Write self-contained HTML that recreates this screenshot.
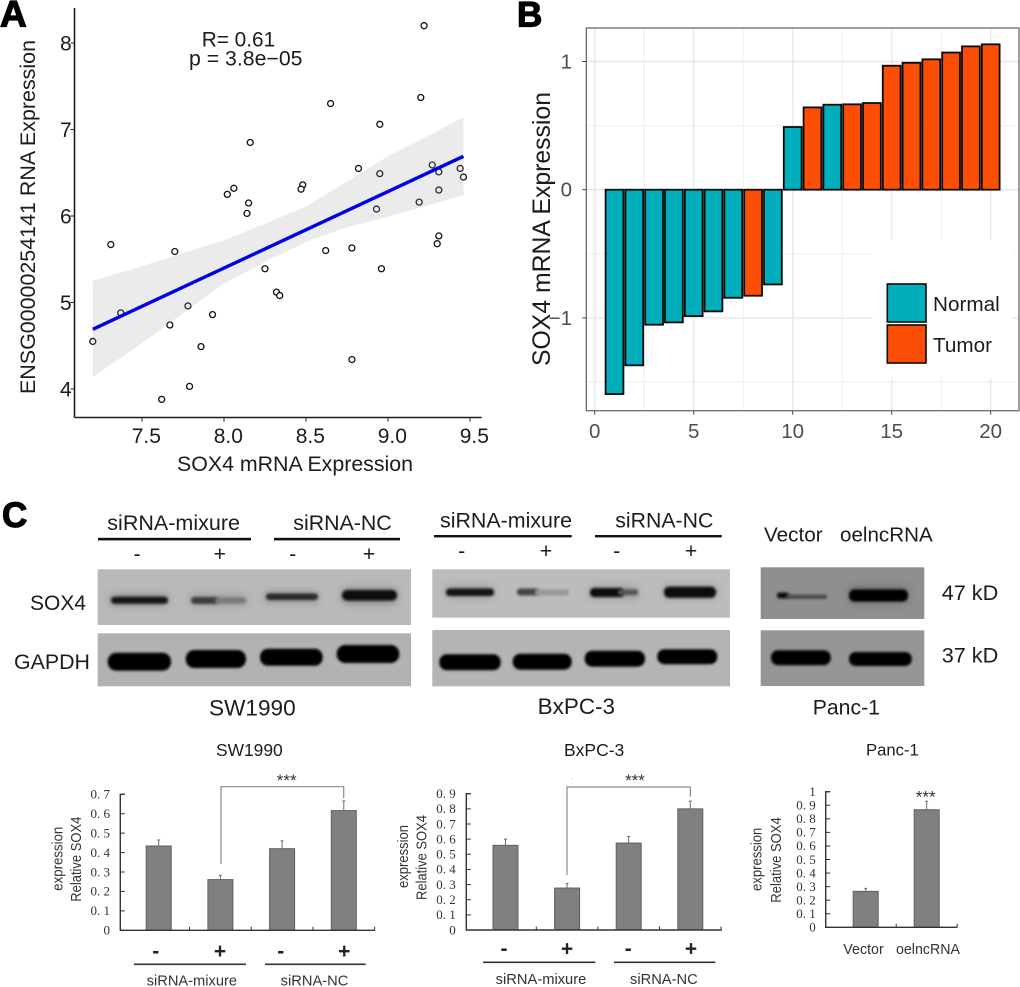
<!DOCTYPE html>
<html>
<head>
<meta charset="utf-8">
<title>SOX4 expression figure</title>
<style>
html,body{margin:0;padding:0;background:#fff;}
svg{display:block;font-family:"Liberation Sans",Arial,sans-serif;filter:blur(0.35px);}
.lbl{fill:#1c1c1c;}
.serif{font-family:"Liberation Serif",serif;}
</style>
</head>
<body>
<svg id="fig" width="1020" height="987" viewBox="0 0 1020 987" xmlns="http://www.w3.org/2000/svg">
<defs>
<filter id="b1" x="-20%" y="-150%" width="140%" height="400%"><feGaussianBlur stdDeviation="1.3"/></filter>
<filter id="b2" x="-20%" y="-150%" width="140%" height="400%"><feGaussianBlur stdDeviation="2.2"/></filter>
<filter id="b4" x="-30%" y="-200%" width="160%" height="500%"><feGaussianBlur stdDeviation="4"/></filter>
</defs>
<rect width="1020" height="987" fill="#fff"/>

<text x="0" y="26.7" font-size="37" font-weight="bold" stroke="#000" stroke-width="1.2">A</text>
<text x="517" y="26.7" font-size="35" font-weight="bold" stroke="#000" stroke-width="1.2">B</text>
<text x="2" y="527" font-size="35" font-weight="bold" stroke="#000" stroke-width="1.2">C</text>

<g id="scatter"></g>
<text class="lbl" x="201.7" y="46.7" font-size="21" textLength="73.5" lengthAdjust="spacingAndGlyphs">R= 0.61</text>
<text class="lbl" x="189" y="65.7" font-size="21" textLength="113.5" lengthAdjust="spacingAndGlyphs">p = 3.8e−05</text>
<text class="lbl" x="177" y="471" font-size="21.2" textLength="236" lengthAdjust="spacingAndGlyphs">SOX4 mRNA Expression</text>
<text class="lbl" transform="translate(35,394) rotate(-90)" font-size="21.4" textLength="354" lengthAdjust="spacingAndGlyphs">ENSG00000254141 RNA Expression</text>

<g id="waterfall"></g>
<text class="lbl" transform="translate(550,366) rotate(-90)" font-size="24.7" textLength="274" lengthAdjust="spacingAndGlyphs">SOX4 mRNA Expression</text>

<g>
  <rect x="97.7" y="569.3" width="313.3" height="55.7" fill="#b9b9b9"/>
  <rect x="97.7" y="633.3" width="313.3" height="53" fill="#b2b2b2"/>
  <g fill="#111">
    <rect x="110" y="595" width="58" height="10" rx="4" fill="#555" filter="url(#b4)" opacity=".5"/>
    <rect x="190" y="595" width="57" height="10" rx="4" fill="#666" filter="url(#b4)" opacity=".4"/>
    <rect x="265" y="592" width="53" height="10" rx="4" fill="#555" filter="url(#b4)" opacity=".45"/>
    <rect x="342" y="589" width="55" height="14" rx="5" fill="#444" filter="url(#b4)" opacity=".5"/>
    <rect x="111" y="596.8" width="57" height="7" rx="3.5" fill="#181818" filter="url(#b1)"/>
    <rect x="191" y="597" width="28" height="7" rx="3.5" fill="#3c3c3c" filter="url(#b1)"/>
    <rect x="215" y="597.5" width="31" height="6" rx="3" fill="#7a7a7a" filter="url(#b1)"/>
    <rect x="266" y="593.5" width="52" height="6.5" rx="3.2" fill="#2a2a2a" filter="url(#b1)"/>
    <rect x="342" y="590" width="55" height="10.5" rx="5" fill="#0c0c0c" filter="url(#b1)"/>
    <rect x="107.7" y="652.7" width="63.3" height="18" rx="8.5" fill="#000" filter="url(#b1)"/>
    <rect x="185.7" y="650" width="60.3" height="18" rx="8.5" fill="#000" filter="url(#b1)"/>
    <rect x="260" y="648.8" width="62.7" height="17" rx="8" fill="#000" filter="url(#b1)"/>
    <rect x="336.7" y="645" width="62.6" height="18" rx="8.5" fill="#000" filter="url(#b1)"/>
  </g>
</g>

<g>
  <rect x="432.3" y="569.3" width="297.7" height="48.4" fill="#bcbcbc"/>
  <rect x="432.3" y="630" width="297.7" height="56.3" fill="#b4b4b4"/>
  <g fill="#111">
    <rect x="445" y="587" width="49" height="10" rx="4" fill="#555" filter="url(#b4)" opacity=".4"/>
    <rect x="590" y="587" width="48" height="11" rx="4" fill="#555" filter="url(#b4)" opacity=".4"/>
    <rect x="664" y="586" width="52" height="12" rx="4" fill="#555" filter="url(#b4)" opacity=".4"/>
    <rect x="446" y="588.5" width="48" height="7.5" rx="3.5" fill="#181818" filter="url(#b1)"/>
    <rect x="517" y="588.5" width="22" height="7" rx="3.2" fill="#454545" filter="url(#b1)"/>
    <rect x="535" y="589.5" width="34" height="6" rx="2.5" fill="#989898" filter="url(#b1)"/>
    <rect x="590" y="588" width="34" height="9" rx="4" fill="#0c0c0c" filter="url(#b1)"/>
    <rect x="618" y="589.5" width="20" height="5.5" rx="2.2" fill="#555" filter="url(#b1)"/>
    <rect x="664" y="586.8" width="52" height="11" rx="5" fill="#0c0c0c" filter="url(#b1)"/>
    <rect x="439.3" y="654.3" width="61.4" height="16" rx="7.5" fill="#000" filter="url(#b1)"/>
    <rect x="512.7" y="653.7" width="59" height="16" rx="7.5" fill="#000" filter="url(#b1)"/>
    <rect x="584.7" y="650.7" width="60.3" height="16" rx="7.5" fill="#000" filter="url(#b1)"/>
    <rect x="657.3" y="649.2" width="60" height="15" rx="7" fill="#000" filter="url(#b1)"/>
  </g>
</g>

<g>
  <rect x="760.7" y="567.3" width="163.6" height="51.7" fill="#8f8f8f"/>
  <rect x="760.7" y="630.3" width="163.6" height="55.7" fill="#969696"/>
  <g fill="#111">
    <rect x="849" y="587" width="59" height="16" rx="5" fill="#444" filter="url(#b4)" opacity=".5"/>
    <rect x="777" y="592.5" width="12" height="6" rx="2.5" fill="#111" filter="url(#b1)"/>
    <rect x="786" y="594.5" width="41" height="4.5" rx="1.7" fill="#4c4c4c" filter="url(#b1)"/>
    <rect x="849" y="589.5" width="59" height="12" rx="5.5" fill="#000" filter="url(#b1)"/>
    <rect x="771" y="650.2" width="59.7" height="15" rx="7" fill="#000" filter="url(#b1)"/>
    <rect x="849" y="652" width="62.7" height="14" rx="6.5" fill="#000" filter="url(#b1)"/>
  </g>
</g>

<g font-size="21.4">
  <text class="lbl" x="107.3" y="530" textLength="132.7" lengthAdjust="spacingAndGlyphs">siRNA-mixure</text>
  <rect x="98" y="537.8" width="153" height="2.6" fill="#111"/>
  <text class="lbl" x="293.3" y="530" textLength="98.4" lengthAdjust="spacingAndGlyphs">siRNA-NC</text>
  <rect x="274" y="537.8" width="126" height="2.6" fill="#111"/>
  <text class="lbl" x="137" y="561" text-anchor="middle">-</text>
  <text class="lbl" x="219.7" y="561" text-anchor="middle">+</text>
  <text class="lbl" x="292.7" y="561" text-anchor="middle">-</text>
  <text class="lbl" x="369" y="561" text-anchor="middle">+</text>
  <text class="lbl" x="30" y="610" textLength="56" lengthAdjust="spacingAndGlyphs">SOX4</text>
  <text class="lbl" x="14" y="669" textLength="76" lengthAdjust="spacingAndGlyphs">GAPDH</text>
  <text class="lbl" x="209" y="715.7" font-size="22.5" textLength="86.7" lengthAdjust="spacingAndGlyphs">SW1990</text>

  <text class="lbl" x="440" y="527.3" textLength="132" lengthAdjust="spacingAndGlyphs">siRNA-mixure</text>
  <rect x="434" y="535" width="137.7" height="2.4" fill="#111"/>
  <text class="lbl" x="615.3" y="527.3" textLength="98" lengthAdjust="spacingAndGlyphs">siRNA-NC</text>
  <rect x="595" y="535" width="126.7" height="2.4" fill="#111"/>
  <text class="lbl" x="461.7" y="558" text-anchor="middle">-</text>
  <text class="lbl" x="546" y="558" text-anchor="middle">+</text>
  <text class="lbl" x="616.7" y="558" text-anchor="middle">-</text>
  <text class="lbl" x="691" y="558" text-anchor="middle">+</text>
  <text class="lbl" x="537.7" y="714" font-size="22.4" textLength="77.3" lengthAdjust="spacingAndGlyphs">BxPC-3</text>

  <text class="lbl" x="764" y="541.7" font-size="20.5" textLength="58.7" lengthAdjust="spacingAndGlyphs">Vector</text>
  <text class="lbl" x="840" y="541.7" font-size="20.5" textLength="92.7" lengthAdjust="spacingAndGlyphs">oelncRNA</text>
  <text class="lbl" x="941.7" y="600" font-size="21.7" textLength="56.6" lengthAdjust="spacingAndGlyphs">47 kD</text>
  <text class="lbl" x="941.7" y="662.7" font-size="21.7" textLength="56.6" lengthAdjust="spacingAndGlyphs">37 kD</text>
  <text class="lbl" x="812.7" y="714.3" textLength="67.3" lengthAdjust="spacingAndGlyphs">Panc-1</text>
</g>

<g id="barcharts"></g>

<g>
  <text class="lbl" x="216" y="756" font-size="17.3" textLength="66.7" lengthAdjust="spacingAndGlyphs">SW1990</text>
  <text class="lbl" x="564" y="756" font-size="17.3" textLength="60.3" lengthAdjust="spacingAndGlyphs">BxPC-3</text>
  <text class="lbl" x="866" y="755.5" font-size="16.8" textLength="52.7" lengthAdjust="spacingAndGlyphs">Panc-1</text>

  <g font-size="15" fill="#333">
    <text transform="translate(81,901.7) rotate(-90)" textLength="85" lengthAdjust="spacingAndGlyphs">Relative SOX4</text>
    <text transform="translate(62.3,890.7) rotate(-90)" textLength="64" lengthAdjust="spacingAndGlyphs">expression</text>
    <text transform="translate(426.7,900) rotate(-90)" textLength="85" lengthAdjust="spacingAndGlyphs">Relative SOX4</text>
    <text transform="translate(408,888) rotate(-90)" textLength="63" lengthAdjust="spacingAndGlyphs">expression</text>
    <text transform="translate(781,902.7) rotate(-90)" textLength="85.4" lengthAdjust="spacingAndGlyphs">Relative SOX4</text>
    <text transform="translate(761.7,891) rotate(-90)" textLength="63.3" lengthAdjust="spacingAndGlyphs">expression</text>
  </g>

  <path d="M221 864V786.7H343.7V798.3" fill="none" stroke="#8a8a8a" stroke-width="1.2"/>
  <path d="M567 875V787H690.3V796.7" fill="none" stroke="#8a8a8a" stroke-width="1.2"/>
  <g font-size="17" fill="#333" text-anchor="middle">
    <text x="286.7" y="786">***</text>
    <text x="635" y="786">***</text>
    <text x="925.7" y="802.5">***</text>
  </g>
  <circle cx="572" cy="778.7" r=".5" fill="#aaa"/>

  <g font-size="21" fill="#222" text-anchor="middle" font-weight="bold">
    <text x="155.7" y="958">-</text>
    <text x="220" y="958">+</text>
    <text x="280.7" y="958">-</text>
    <text x="344.3" y="958">+</text>
    <text x="504" y="955.5">-</text>
    <text x="567" y="955.5">+</text>
    <text x="628.3" y="955.5">-</text>
    <text x="691" y="955.5">+</text>
  </g>
  <g fill="#333">
    <rect x="134" y="963.5" width="112" height="1.6"/>
    <rect x="265" y="963.5" width="100.7" height="1.6"/>
    <rect x="483" y="961.5" width="112.3" height="1.6"/>
    <rect x="614" y="961.5" width="101.3" height="1.6"/>
  </g>
  <g font-size="14.6" fill="#333">
    <text x="146.7" y="985.5" textLength="90.3" lengthAdjust="spacingAndGlyphs">siRNA-mixure</text>
    <text x="280.7" y="985.5" textLength="67.6" lengthAdjust="spacingAndGlyphs">siRNA-NC</text>
    <text x="495.7" y="984" textLength="90.6" lengthAdjust="spacingAndGlyphs">siRNA-mixure</text>
    <text x="630" y="984" textLength="67.7" lengthAdjust="spacingAndGlyphs">siRNA-NC</text>
    <text x="843.3" y="954" textLength="40.4" lengthAdjust="spacingAndGlyphs">Vector</text>
    <text x="896" y="954" textLength="64" lengthAdjust="spacingAndGlyphs">oelncRNA</text>
  </g>
</g>

<script>
const scatterXValues = [9.22,9.20,8.65,8.95,8.16,9.27,8.82,9.44,9.31,8.95,9.46,8.48,8.47,8.06,8.02,9.31,8.15,9.19,8.93,8.14,9.31,9.30,7.31,7.70,8.62,8.78,8.25,8.96,8.32,8.34,7.78,7.93,7.37,7.67,7.20,7.86,8.78,7.79,7.62];
const scatterYValues = [8.20,7.37,7.30,7.06,6.85,6.59,6.55,6.55,6.51,6.49,6.45,6.36,6.31,6.32,6.25,6.30,6.15,6.16,6.08,6.03,5.77,5.68,5.67,5.59,5.60,5.63,5.39,5.39,5.12,5.08,4.96,4.86,4.88,4.74,4.55,4.49,4.34,4.03,3.88];
const fitXValues = [7.20,9.46];
const fitYValues = [4.69,6.69];
const bandXValues = [7.20,7.50,8.00,8.25,8.50,8.75,9.00,9.46];
const bandUpperValues = [5.25,5.42,5.72,5.91,6.11,6.40,6.69,7.14];
const bandLowerValues = [4.14,4.53,5.22,5.47,5.70,5.87,5.99,6.24];
const scatterXTicks = [7.5,8.0,8.5,9.0,9.5];
const scatterYTicks = [4,5,6,7,8];

const waterfallRanks = [1,2,3,4,5,6,7,8,9,10,11,12,13,14,15,16,17,18,19,20];
const waterfallValues = [-1.594,-1.37,-1.053,-1.035,-0.986,-0.949,-0.843,-0.827,-0.739,0.489,0.642,0.663,0.666,0.676,0.967,0.99,1.017,1.07,1.118,1.134];
const waterfallGroups = ["Normal","Normal","Normal","Normal","Normal","Normal","Normal","Tumor","Normal","Normal","Tumor","Normal","Tumor","Tumor","Tumor","Tumor","Tumor","Tumor","Tumor","Tumor"];
const waterfallXTicks = [0,5,10,15,20];
const waterfallYTicks = [-1,0,1];
const waterfallXMinor = [2.5,7.5,12.5,17.5];
const waterfallYMinor = [-1.5,-0.5,0.5];
const legendGroups = ["Normal","Tumor"];

const sw1990Means = [0.434,0.261,0.42,0.616];
const sw1990Errors = [0.031,0.022,0.04,0.05];
const sw1990Ticks = [0,0.1,0.2,0.3,0.4,0.5,0.6,0.7];
const bxpcMeans = [0.559,0.277,0.574,0.80];
const bxpcErrors = [0.041,0.031,0.044,0.051];
const bxpcTicks = [0,0.1,0.2,0.3,0.4,0.5,0.6,0.7,0.8,0.9];
const pancMeans = [0.265,0.867];
const pancErrors = [0.022,0.063];
const pancTicks = [0,0.1,0.2,0.3,0.4,0.5,0.6,0.7,0.8,0.9,1];

const NS = "http://www.w3.org/2000/svg";
function make(tag, attrs, parent, text){
  const node = document.createElementNS(NS, tag);
  for (const k in attrs) node.setAttribute(k, attrs[k]);
  if (text !== undefined) node.textContent = text;
  parent.appendChild(node);
  return node;
}

/* ---------- Panel A ---------- */
(function(){
  const g = document.getElementById("scatter");
  const sx = v => 142 + (v - 7.5) * 164;
  const sy = v => 389 - (v - 4) * 86.5;
  scatterXValues.forEach(function(v, i){
    const el = make("circle", {cx:sx(v), cy:sy(scatterYValues[i]), r:3, fill:"#fff", stroke:"#111", "stroke-width":1.3}, g);
    
    
  });
  let d = bandXValues.map((v,i)=>(i?"L":"M")+sx(v)+" "+sy(bandUpperValues[i])).join("");
  for (let i = bandXValues.length - 1; i >= 0; i--) d += "L"+sx(bandXValues[i])+" "+sy(bandLowerValues[i]);
  const band = make("path", {d:d+"Z", fill:"#999", "fill-opacity":0.2}, g);
  
  
  const fit = make("line", {x1:sx(fitXValues[0]), y1:sy(fitYValues[0]), x2:sx(fitXValues[1]), y2:sy(fitYValues[1]), stroke:"#0000e6", "stroke-width":3.4}, g);
  
  
  const xAxis = make("line", {x1:74.5, y1:417.5, x2:481.7, y2:417.5, stroke:"#1c1c1c", "stroke-width":1.6}, g);
  
  
  const yAxis = make("line", {x1:74.5, y1:8, x2:74.5, y2:417.5, stroke:"#1c1c1c", "stroke-width":1.6}, g);
  
  
  scatterXTicks.forEach(function(v){
    const t = make("line", {x1:sx(v), y1:417.5, x2:sx(v), y2:421.5, stroke:"#222", "stroke-width":1}, g);
    
    
    const l = make("text", {x:sx(v)+4.3, y:443, "font-size":21, "text-anchor":"middle", fill:"#1c1c1c"}, g, v.toFixed(1));
    
    
  });
  scatterYTicks.forEach(function(v){
    const t = make("line", {x1:70.5, y1:sy(v), x2:74.5, y2:sy(v), stroke:"#222", "stroke-width":1}, g);
    
    
    const l = make("text", {x:71.7, y:sy(v)+7.3, "font-size":21, "text-anchor":"end", fill:"#1c1c1c"}, g, String(v));
    
    
  });
})();

/* ---------- Panel B ---------- */
(function(){
  const g = document.getElementById("waterfall");
  const L = 586.3, R = 1019, T = 28, B = 410.7;
  const sx = v => 594.7 + v * 19.8;
  const sy = v => 189.7 - v * 128.2;
  const colors = {Normal:"#00afbb", Tumor:"#fc4e07"};
  waterfallXMinor.forEach(function(v){
    const l = make("line", {x1:sx(v), y1:T, x2:sx(v), y2:B, stroke:"#eeeeee", "stroke-width":0.9}, g);
    
    
  });
  waterfallYMinor.forEach(function(v){
    const l = make("line", {x1:L, y1:sy(v), x2:R, y2:sy(v), stroke:"#eeeeee", "stroke-width":0.9}, g);
    
    
  });
  waterfallXTicks.forEach(function(v){
    const l = make("line", {x1:sx(v), y1:T, x2:sx(v), y2:B, stroke:"#e8e8e8", "stroke-width":1.4}, g);
    
    
  });
  waterfallYTicks.forEach(function(v){
    const l = make("line", {x1:L, y1:sy(v), x2:R, y2:sy(v), stroke:"#e8e8e8", "stroke-width":1.4}, g);
    
    
  });
  const legendBg = make("rect", {x:872.7, y:240, width:140.3, height:137.7, fill:"#fff"}, g);
  
  
  waterfallRanks.forEach(function(r, i){
    const v = waterfallValues[i];
    const bar = make("rect", {x:sx(r-0.45), y:Math.min(sy(v), sy(0)), width:sx(r+0.45)-sx(r-0.45), height:Math.abs(sy(v)-sy(0)), fill:colors[waterfallGroups[i]], stroke:"#0a0a0a", "stroke-width":1.8}, g);
    
    
  });
  const frame = make("rect", {x:L, y:T, width:R-L, height:B-T, fill:"none", stroke:"#6a6a6a", "stroke-width":1.3}, g);
  
  
  waterfallXTicks.forEach(function(v){
    const t = make("line", {x1:sx(v), y1:B, x2:sx(v), y2:B+4, stroke:"#444", "stroke-width":1}, g);
    
    
    const l = make("text", {x:sx(v), y:438, "font-size":20.5, "text-anchor":"middle", fill:"#4d4d4d"}, g, String(v));
    
    
  });
  waterfallYTicks.forEach(function(v){
    const t = make("line", {x1:L-4, y1:sy(v), x2:L, y2:sy(v), stroke:"#444", "stroke-width":1}, g);
    
    
    const l = make("text", {x:572, y:sy(v)+7, "font-size":20.5, "text-anchor":"end", fill:"#4d4d4d"}, g, String(v).replace("-", "\u2212"));
    
    
  });
  legendGroups.forEach(function(name, i){
    const y = 284 + i * 41;
    const key = make("rect", {x:887.3, y:y, width:38.7, height:38, fill:colors[name], stroke:"#0a0a0a", "stroke-width":1.6}, g);
    
    
    const l = make("text", {x:933, y:y+26.8, "font-size":20.7, fill:"#1c1c1c"}, g, name);
    
    
  });
})();

/* ---------- Panel C bar charts ---------- */
function drawBars(g, means, errors, ticks, left, right, top, bottom, firstCenter, step, labelX, topValue){
  const sy = v => bottom - (v / topValue) * (bottom - top);
  const sx = i => firstCenter + i * step;
  means.forEach(function(m, i){
    const bar = make("rect", {x:sx(i)-12.5, y:sy(m), width:25, height:bottom-sy(m), fill:"#808080", stroke:"#5f5f5f", "stroke-width":1}, g);
    
    
    const err = make("path", {d:"M"+sx(i)+" "+sy(m)+"V"+sy(m+errors[i])+"M"+(sx(i)-1.5)+" "+sy(m+errors[i])+"H"+(sx(i)+1.5), stroke:"#6a6a6a", "stroke-width":1, fill:"none"}, g);
    
    
  });
  const axis = make("path", {d:"M"+(left+4.5)+" "+top+"H"+left+"V"+bottom+"H"+right, fill:"none", stroke:"#333", "stroke-width":1.4}, g);
  
  
  ticks.forEach(function(v){
    const t = make("line", {x1:left, y1:sy(v), x2:left+4.5, y2:sy(v), stroke:"#333", "stroke-width":1}, g);
    
    
    const text = (v === 0 || v === 1) ? String(v) : "0. " + Math.round(v * 10);
    const l = make("text", {x:labelX, y:sy(v)+4.3, "font-size":13, "text-anchor":"end", fill:"#333", "class":"serif"}, g, text);
    
    
  });
  means.forEach(function(m, i){
    const bx = sx(i) + step / 2;
    const t = make("line", {x1:bx, y1:bottom, x2:bx, y2:bottom-3.5, stroke:"#333", "stroke-width":1}, g);
    
    
  });
}
(function(){
  const root = document.getElementById("barcharts");
  const g1 = make("g", {}, root);
  
  
  drawBars(g1, sw1990Means, sw1990Errors, sw1990Ticks, 120.3, 375, 794.3, 930.3, 158.7, 61.7, 110, 0.7);
  const g2 = make("g", {}, root);
  
  
  drawBars(g2, bxpcMeans, bxpcErrors, bxpcTicks, 466.3, 721.7, 793.7, 930, 505.5, 61.6, 455.7, 0.9);
  const g3 = make("g", {}, root);
  
  
  drawBars(g3, pancMeans, pancErrors, pancTicks, 825.7, 957.3, 791.7, 927.3, 865.7, 61, 815.7, 1);
})();
</script>
</svg>
</body>
</html>
